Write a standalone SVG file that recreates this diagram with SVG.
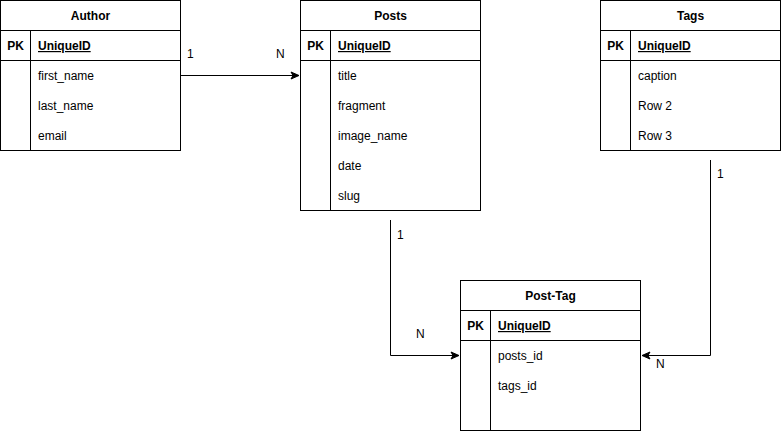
<svg xmlns="http://www.w3.org/2000/svg" width="781" height="431" viewBox="0 0 781 431">
<style>
text{font-family:"Liberation Sans",Arial,sans-serif;font-size:12px;fill:#000}
.t{font-weight:bold;text-anchor:middle}
.pk{font-weight:bold;text-anchor:middle}
.id{font-weight:bold;text-decoration:underline}
.box{fill:#fff;stroke:#000;stroke-width:1}
.ln{stroke:#000;stroke-width:1;fill:none}
</style>
<defs>
<marker id="arr" viewBox="0 0 10 10" refX="9" refY="5" markerWidth="10" markerHeight="10" markerUnits="userSpaceOnUse" orient="auto">
<path d="M1,1.5 L9,5 L1,8.5 L3,5 Z" fill="#000" stroke="#000" stroke-width="1"/>
</marker>
</defs>
<g id="connectors">
<path class="ln" d="M180.5,75.5 H299" marker-end="url(#arr)"/>
<path class="ln" d="M390.5,220 V355.5 H459" marker-end="url(#arr)"/>
<path class="ln" d="M710.5,160 V355.5 H642" marker-end="url(#arr)"/>
<text x="187" y="58">1</text>
<text x="276" y="58">N</text>
<text x="397" y="239">1</text>
<text x="416" y="338">N</text>
<text x="717" y="178">1</text>
<text x="656" y="368">N</text>
</g>
<g id="author">
<rect class="box" x="0.5" y="0.5" width="180" height="150"/>
<path class="ln" d="M0.5,30.5 H180.5 M0.5,60.5 H180.5 M30.5,30.5 V150.5"/>
<text class="t" x="90.5" y="20">Author</text>
<text class="pk" x="15.5" y="50">PK</text>
<text class="id" x="38" y="50">UniqueID</text>
<text x="38" y="80">first_name</text>
<text x="38" y="110">last_name</text>
<text x="38" y="140">email</text>
</g>
<g id="posts">
<rect class="box" x="300.5" y="0.5" width="180" height="210"/>
<path class="ln" d="M300.5,30.5 H480.5 M300.5,60.5 H480.5 M330.5,30.5 V210.5"/>
<text class="t" x="390.5" y="20">Posts</text>
<text class="pk" x="315.5" y="50">PK</text>
<text class="id" x="338" y="50">UniqueID</text>
<text x="338" y="80">title</text>
<text x="338" y="110">fragment</text>
<text x="338" y="140">image_name</text>
<text x="338" y="170">date</text>
<text x="338" y="200">slug</text>
</g>
<g id="tags">
<rect class="box" x="600.5" y="0.5" width="180" height="150"/>
<path class="ln" d="M600.5,30.5 H780.5 M600.5,60.5 H780.5 M630.5,30.5 V150.5"/>
<text class="t" x="690.5" y="20">Tags</text>
<text class="pk" x="615.5" y="50">PK</text>
<text class="id" x="638" y="50">UniqueID</text>
<text x="638" y="80">caption</text>
<text x="638" y="110">Row 2</text>
<text x="638" y="140">Row 3</text>
</g>
<g id="post-tag">
<rect class="box" x="460.5" y="280.5" width="180" height="150"/>
<path class="ln" d="M460.5,310.5 H640.5 M460.5,340.5 H640.5 M490.5,310.5 V430.5"/>
<text class="t" x="550.5" y="300">Post-Tag</text>
<text class="pk" x="475.5" y="330">PK</text>
<text class="id" x="498" y="330">UniqueID</text>
<text x="498" y="360">posts_id</text>
<text x="498" y="390">tags_id</text>
</g>
</svg>
